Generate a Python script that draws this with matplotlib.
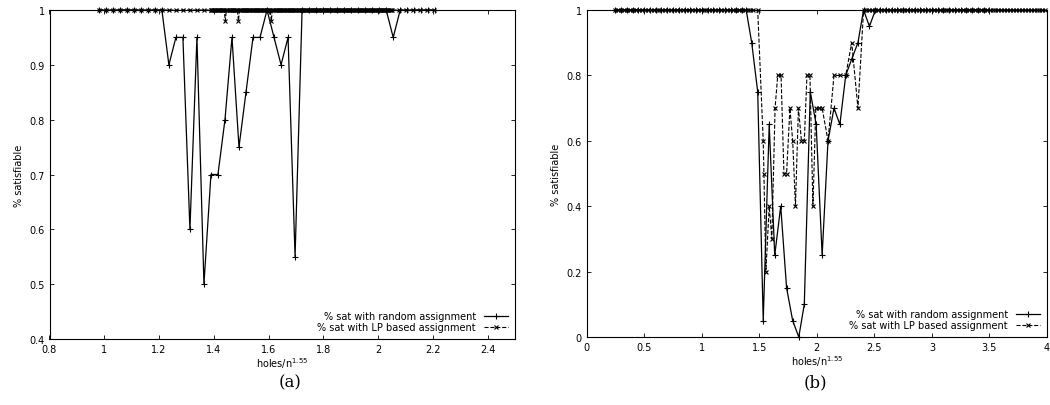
import numpy as np
import matplotlib
matplotlib.use("Agg")
import matplotlib.pyplot as plt

# ---- Panel (a) data ----
a_rand_x = np.round(np.arange(0.98, 2.215, 0.0256), 4)
a_rand_dips = {1.234: 0.9, 1.258: 0.95, 1.286: 0.95, 1.31: 0.6, 1.335: 0.95, 1.362: 0.5,
               1.386: 0.7, 1.413: 0.7, 1.439: 0.8, 1.464: 0.95, 1.49: 0.75, 1.515: 0.85,
               1.54: 0.95, 1.568: 0.95, 1.619: 0.95, 1.645: 0.9, 1.67: 0.95, 1.696: 0.55,
               2.055: 0.95}
a_lp_x = np.concatenate([np.arange(0.98, 1.39, 0.0256), np.arange(1.39, 2.05, 0.004),
                         np.arange(2.05, 2.215, 0.0256)])
a_lp_dips = {1.442: 0.98, 1.49: 0.98, 1.61: 0.98}

# ---- Panel (b) data ----
b_rand_x = [0.25 + 0.05 * i for i in range(23)] + [1.386, 1.434, 1.486, 1.534, 1.586, 1.634,
            1.686, 1.737, 1.79, 1.843, 1.891, 1.943, 1.994, 2.046, 2.097, 2.149, 2.2, 2.251,
            2.303, 2.357, 2.406, 2.457, 2.509] + [2.55 + 0.05 * i for i in range(20)]
b_rand_y = [1.0] * 23 + [1.0, 0.9, 0.75, 0.05, 0.65, 0.25, 0.4, 0.15, 0.05, 0.0, 0.1, 0.75,
            0.65, 0.25, 0.6, 0.7, 0.65, 0.8, 0.85, 0.9, 1.0, 0.95, 1.0] + [1.0] * 20
b_lp_x = [0.25 + 0.0255 * i for i in range(48)] + [1.486, 1.534, 1.540, 1.557, 1.586, 1.609,
          1.637, 1.66, 1.689, 1.714, 1.737, 1.766, 1.79, 1.814, 1.84, 1.866, 1.891, 1.914,
          1.94, 1.966, 1.991, 2.017, 2.046, 2.097, 2.149, 2.2, 2.251, 2.303, 2.357, 2.406] + \
         [2.43 + 0.0255 * i for i in range(62)]
b_lp_y = [1.0] * 48 + [1.0, 0.6, 0.5, 0.2, 0.4, 0.3, 0.7, 0.8, 0.8, 0.5, 0.5, 0.7, 0.6, 0.4,
          0.7, 0.6, 0.6, 0.8, 0.8, 0.4, 0.7, 0.7, 0.7, 0.6, 0.8, 0.8, 0.8, 0.9, 0.7, 1.0] + [1.0] * 62

def ylook(xs, dips, tol):
    out = []
    for x in xs:
        v = 1.0
        for k, d in dips.items():
            if abs(x - k) < tol:
                v = d
        out.append(v)
    return out

a_rand_y = ylook(a_rand_x, a_rand_dips, 0.0125)
a_lp_y = ylook(a_lp_x, a_lp_dips, 0.0021)

plt.rcParams['font.family'] = ['DejaVu Sans']
fig = plt.figure(figsize=(10.5, 4.06), dpi=100)
W, H = 1050, 406
axa = fig.add_axes([49.5 / W, 1 - 340 / H, (515 - 49.5) / W, 329 / H])
axb = fig.add_axes([586.7 / W, 1 - 338 / H, (1047 - 586.7) / W, 327 / H])

for ax, rx, ry, lx, ly in [(axa, a_rand_x, a_rand_y, a_lp_x, a_lp_y),
                           (axb, b_rand_x, b_rand_y, b_lp_x, b_lp_y)]:
    ax.plot(rx, ry, '-', color='black', lw=0.9, marker='+', ms=5, mew=0.8, clip_on=False,
            label='% sat with random assignment')
    ax.plot(lx, ly, '--', color='black', lw=0.8, marker='x', ms=3.5, mew=0.8, clip_on=False,
            label='% sat with LP based assignment')
    ax.tick_params(direction='in', labelsize=7, length=3, width=0.6, top=True, right=True)
    for s in ax.spines.values():
        s.set_linewidth(0.8)
    ax.set_xlabel('holes/n$^{1.55}$', fontsize=7, labelpad=1)
    ax.set_ylabel('% satisfiable', fontsize=7)
    leg = ax.legend(loc='lower right', frameon=False, fontsize=7, handlelength=2.5,
                    markerfirst=False, borderaxespad=0.3, labelspacing=0.1)

axa.set_xlim(0.8, 2.5)
axa.set_ylim(0.4, 1.0)
axa.set_xticks([0.8, 1, 1.2, 1.4, 1.6, 1.8, 2, 2.2, 2.4])
axa.set_xticklabels(['0.8', '1', '1.2', '1.4', '1.6', '1.8', '2', '2.2', '2.4'])
axa.set_yticks([0.4, 0.5, 0.6, 0.7, 0.8, 0.9, 1])
axa.set_yticklabels(['0.4', '0.5', '0.6', '0.7', '0.8', '0.9', '1'])
axb.set_xlim(0, 4)
axb.set_ylim(0, 1)
axb.set_xticks([0, 0.5, 1, 1.5, 2, 2.5, 3, 3.5, 4])
axb.set_xticklabels(['0', '0.5', '1', '1.5', '2', '2.5', '3', '3.5', '4'])
axb.set_yticks([0, 0.2, 0.4, 0.6, 0.8, 1])
axb.set_yticklabels(['0', '0.2', '0.4', '0.6', '0.8', '1'])

fig.text(290 / W, 1 - 383 / H, '(a)', fontsize=12, family='DejaVu Serif', ha='center', va='center')
fig.text(815 / W, 1 - 383 / H, '(b)', fontsize=12, family='DejaVu Serif', ha='center', va='center')
fig.savefig('out.png', dpi=100)
